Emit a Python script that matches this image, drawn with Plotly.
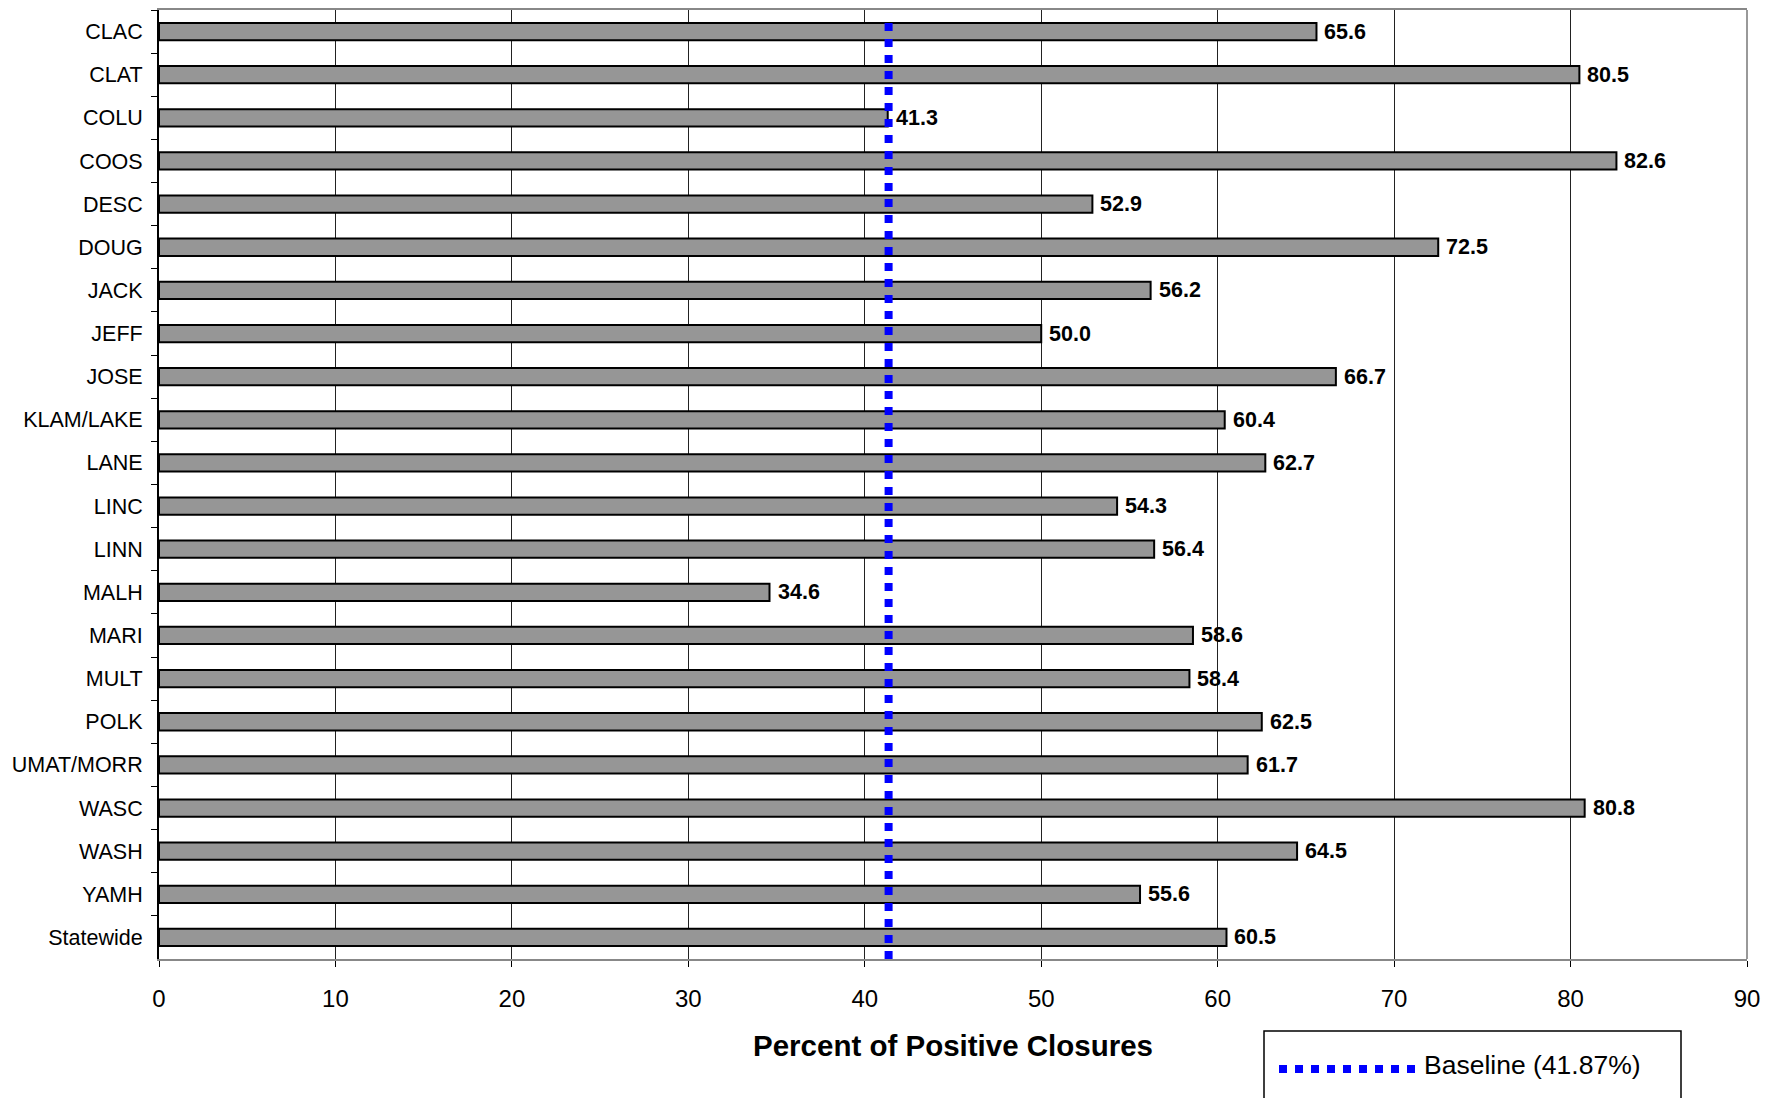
import plotly.graph_objects as go

categories = ["CLAC", "CLAT", "COLU", "COOS", "DESC", "DOUG", "JACK", "JEFF", "JOSE",
              "KLAM/LAKE", "LANE", "LINC", "LINN", "MALH", "MARI", "MULT", "POLK",
              "UMAT/MORR", "WASC", "WASH", "YAMH", "Statewide"]
values = [65.6, 80.5, 41.3, 82.6, 52.9, 72.5, 56.2, 50.0, 66.7,
          60.4, 62.7, 54.3, 56.4, 34.6, 58.6, 58.4, 62.5,
          61.7, 80.8, 64.5, 55.6, 60.5]
baseline_label = "Baseline (41.87%)"
baseline_value = 41.35  # position at which the reference draws the line
x_ticks = [0, 10, 20, 30, 40, 50, 60, 70, 80, 90]

FONT = "Liberation Sans, Arial, sans-serif"
n = len(categories)

# page has an 8px body margin; plot area in page pixels: x 159..1747, y 10..959
PL, PR, PT, PB = 159, 1747, 10, 959
W, H = 1778 - 8, 1098 - 8


def px(x):
    return (x - PL) / (PR - PL)


def py(y):
    return (PB - y) / (PB - PT)


fig = go.Figure()
fig.add_trace(go.Bar(
    y=categories, x=values, orientation="h",
    marker=dict(color="#969696", line=dict(color="black", width=2)),
    showlegend=False, hoverinfo="x+y",
))
fig.add_trace(go.Scatter(
    x=[baseline_value, baseline_value], y=[-0.2, n - 0.5],
    yaxis="y2", mode="lines", name=baseline_label,
    line=dict(color="#0000ff", width=8, dash="8px,8px"),
    showlegend=False,
))

annotations = []
for c, v in zip(categories, values):
    annotations.append(dict(
        x=v, y=c, xref="x", yref="y", text=f"{v:.1f}", showarrow=False,
        xanchor="left", yanchor="middle", xshift=6,
        font=dict(family=FONT, size=21.5, color="black", weight="bold"),
    ))

# x axis title
annotations.append(dict(
    x=0.5, y=py(1045), xref="paper", yref="paper", yanchor="middle",
    text="<b>Percent of Positive Closures</b>", showarrow=False,
    font=dict(family=FONT, size=29.5, color="black"),
))
# legend text
annotations.append(dict(
    x=px(1422), y=py(1065), xref="paper", yref="paper", text=baseline_label,
    showarrow=False, xanchor="left", yanchor="middle",
    font=dict(family=FONT, size=26.5, color="black"),
))

shapes = [
    # right border
    dict(type="line", xref="x domain", yref="y domain", x0=1, x1=1, y0=0, y1=1,
         line=dict(color="#999999", width=2)),
    # legend box
    dict(type="rect", xref="paper", yref="paper",
         x0=px(1264), x1=px(1681), y0=py(1130), y1=py(1031),
         line=dict(color="black", width=1.5), fillcolor="white"),
    # legend sample
    dict(type="line", xref="paper", yref="paper",
         x0=px(1279), x1=px(1415), y0=py(1069), y1=py(1069),
         line=dict(color="#0000ff", width=8, dash="8px,8px")),
]

fig.update_layout(
    width=W, height=H,
    margin=dict(l=PL - 8, r=1778 - PR, t=PT - 8, b=1098 - PB, autoexpand=False),
    paper_bgcolor="white", plot_bgcolor="white",
    bargap=0.6,
    font=dict(family=FONT, color="black"),
    xaxis=dict(
        range=[0, 90], tickvals=x_ticks, ticktext=[str(t) for t in x_ticks],
        showgrid=True, gridcolor="#222222", gridwidth=1,
        showline=True, linecolor="#888888", linewidth=2, mirror=True,
        ticks="outside", ticklen=6, tickcolor="black", tickwidth=1,
        ticklabelstandoff=11,
        tickfont=dict(family=FONT, size=24, color="black"),
        zeroline=False, automargin=False,
    ),
    yaxis=dict(
        type="category", categoryorder="array", categoryarray=categories,
        range=[n - 0.5, -0.5], tickson="boundaries",
        showgrid=False, showline=True, linecolor="black", linewidth=2,
        ticks="outside", ticklen=6, tickcolor="black", tickwidth=1,
        ticklabelstandoff=10, automargin=False,
        tickfont=dict(family=FONT, size=21.5, color="black"),
    ),
    yaxis2=dict(overlaying="y", range=[n - 0.5, -0.5], visible=False),
    annotations=annotations,
    shapes=shapes,
    showlegend=False,
)

fig.write_html("out.html")
